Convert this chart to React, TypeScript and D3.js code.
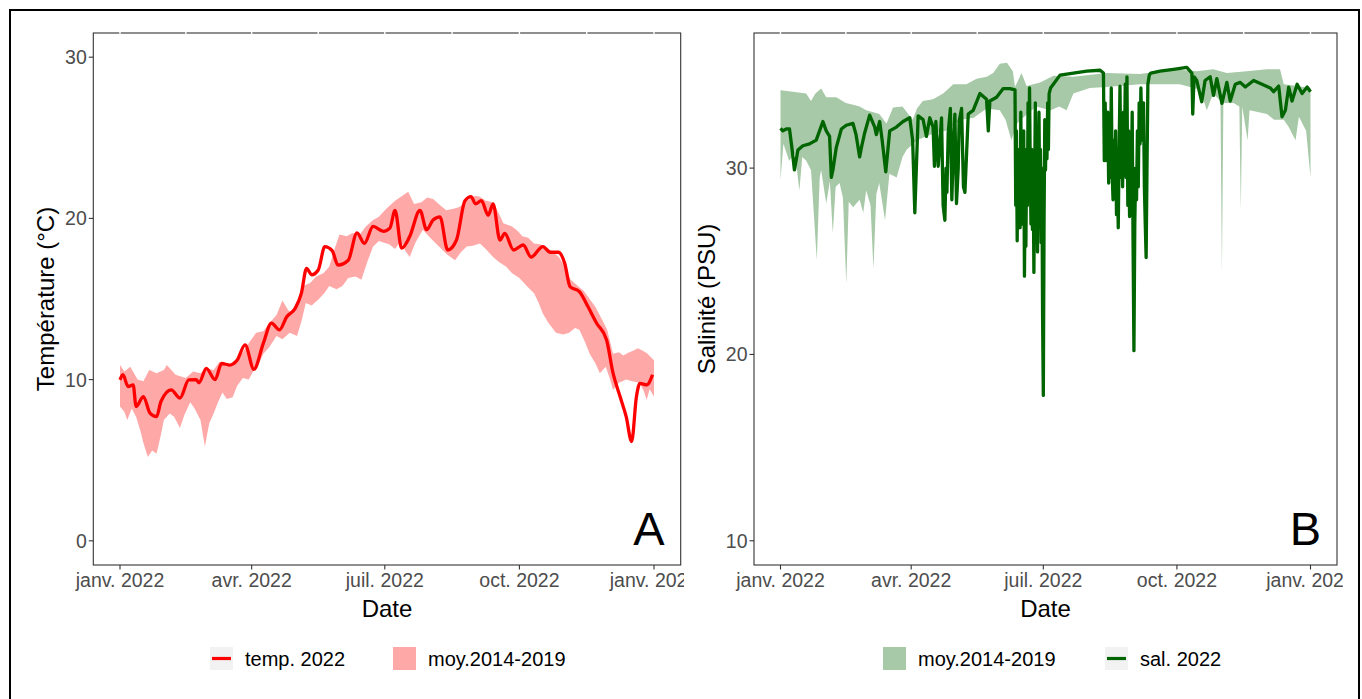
import React from "react";
import * as d3 from "d3";

// ---------- axis data ----------
const tickDays = [0, 90, 181, 273, 365];
const tickLabels = ["janv. 2022", "avr. 2022", "juil. 2022", "oct. 2022", "janv. 2023"];
const minorDays = [45, 135.5, 227, 319];
const tempYTicks = [0, 10, 20, 30];
const salYTicks = [10, 20, 30];

// ---------- temperature 2022 (day of year, °C) ----------
const tempDays = [0, 2, 5.5, 9, 11, 16, 20.5, 25, 28, 35, 41, 47, 52, 54, 59, 65, 69.5, 75, 80, 85.5, 91.5, 98, 103.5, 109, 114, 119.6, 124, 127.5, 131, 135.5, 140, 145, 149, 156, 162, 167, 173, 180, 184.5, 188, 192.5, 198, 205, 209.6, 214, 218.7, 224, 230, 235.8, 240, 243, 247, 251.7, 255, 259.7, 263, 269, 275.6, 281, 289, 294, 299.6, 304, 307.6, 314, 320, 325.8, 332.6, 337, 341.8, 346, 349.7, 353, 355.4, 360, 364];
const tempValues = [9.98, 10.3, 9.57, 9.67, 8.33, 8.95, 7.92, 7.7, 8.64, 9.36, 8.86, 9.98, 10.0, 9.8, 10.7, 10.0, 11.0, 10.9, 11.2, 12.15, 10.64, 12.26, 13.5, 13.08, 13.9, 14.4, 15.36, 16.9, 16.5, 16.8, 18.25, 18.0, 17.1, 17.4, 19.1, 18.45, 19.5, 19.2, 19.4, 20.5, 18.15, 18.87, 20.5, 19.3, 19.9, 20.1, 18.04, 18.66, 21.1, 21.35, 20.9, 21.1, 20.2, 20.9, 18.66, 19.07, 18.04, 18.35, 17.6, 18.25, 17.9, 17.9, 17.2, 15.77, 15.46, 14.5, 13.5, 12.46, 10.4, 8.95, 7.7, 6.16, 8.95, 9.77, 9.67, 10.3];

// ---------- temperature mean 2014-2019 band ----------
const tempUpDays = [0, 3, 7, 12, 16, 20, 25, 30, 32, 38, 45, 50, 55, 59, 64, 68, 73, 77, 82, 86, 93, 98, 102, 107, 111, 115, 118, 122, 125, 130, 134, 139, 143, 147, 150, 155, 159, 164, 168, 173, 177, 182, 188, 193, 197, 201, 206, 210, 214, 219, 223, 228, 232, 236, 239, 243, 246, 250, 255, 259, 262, 268, 272, 275, 279, 283, 287, 291, 296, 300, 304, 308, 313, 317, 321, 325, 329, 333, 337, 341, 344, 347, 351, 354, 357, 360, 365];
const tempUp = [10.9, 10.5, 10.8, 10.0, 9.9, 10.6, 10.4, 10.6, 10.9, 10.3, 10.1, 10.5, 10.4, 10.7, 10.6, 11.1, 10.8, 11.1, 11.4, 12.0, 12.9, 13.0, 13.5, 14.0, 14.9, 14.3, 14.1, 15.0, 15.8, 16.0, 16.4, 16.6, 17.0, 18.2, 19.0, 18.9, 19.1, 19.0, 19.5, 19.9, 20.1, 20.6, 21.1, 21.4, 21.65, 20.9, 21.0, 21.3, 21.2, 20.8, 20.5, 20.6, 20.7, 21.0, 21.2, 21.4, 21.35, 21.1, 21.0, 20.3, 19.7, 19.5, 19.2, 18.9, 18.8, 18.45, 18.4, 18.25, 17.9, 17.6, 17.0, 16.2, 15.8, 15.5, 15.0, 14.5, 13.8, 13.1, 11.6, 11.7, 11.5, 11.65, 11.8, 11.95, 11.8, 11.65, 11.2];
const tempLoDays = [0, 3, 5, 8, 11, 14, 16, 19, 22, 25, 28, 30, 34, 37, 41, 44, 48, 51, 55, 58, 61, 64, 67, 70, 73, 77, 80, 84, 88, 91, 95, 98, 102, 107, 111, 116, 121, 124, 127, 131, 136, 140, 143, 148, 152, 156, 161, 165, 169, 173, 177, 180, 184, 188, 192, 195, 198, 202, 207, 212, 218, 223, 229, 233, 237, 241, 246, 250, 255, 259, 264, 268, 273, 278, 283, 286, 289, 293, 298, 303, 307, 311, 314, 318, 321, 325, 328, 332, 335, 337, 341, 346, 350, 355, 358, 360, 362, 365];
const tempLo = [8.33, 8.0, 7.5, 8.2, 7.7, 6.8, 6.07, 5.2, 5.6, 5.4, 6.6, 7.5, 7.9, 7.7, 7.0, 7.8, 8.6, 8.2, 7.5, 5.85, 7.3, 7.9, 8.6, 9.2, 8.8, 8.9, 9.6, 10.1, 10.0, 10.5, 11.0, 11.6, 12.0, 12.7, 12.5, 12.9, 12.7, 13.6, 14.75, 14.6, 15.0, 15.4, 15.8, 15.6, 15.8, 16.3, 16.4, 16.2, 17.3, 18.25, 18.6, 18.5, 18.4, 18.1, 18.6, 18.0, 17.6, 18.5, 19.3, 18.8, 18.25, 17.8, 17.4, 17.9, 18.25, 18.3, 18.45, 18.1, 17.6, 17.3, 17.0, 16.6, 16.3, 15.8, 15.35, 14.8, 14.1, 13.5, 12.9, 12.8, 12.9, 13.2, 13.1, 12.3, 11.6, 11.0, 10.4, 10.8, 10.0, 9.36, 9.8, 10.0, 9.9, 9.8, 9.3, 8.74, 9.4, 8.95];

// ---------- salinity 2022: [day of year, PSU] ----------
const sal2022: [number, number][] = [
  [0, 32.13], [1.6, 32.0], [4, 32.1], [6.2, 32.1], [8, 31.0], [9.6, 29.9], [12, 30.97], [15.4, 31.2], [20, 31.3], [24.6, 31.5],
  [29.2, 32.5], [31.5, 32.0], [33.8, 31.7], [35, 29.5], [36.1, 29.9], [38.4, 31.1], [41.9, 32.1], [45.3, 32.3], [49.9, 32.4], [52, 31.8],
  [54.5, 30.6], [56, 31.2], [58, 31.9], [61.4, 32.84], [64.9, 32.2], [66, 31.8], [68.3, 32.5], [70, 31.5], [72.5, 29.8], [75.2, 32.0],
  [79.8, 32.2], [84.4, 32.5], [89, 32.7], [91, 31.5], [92.5, 27.6], [94.8, 32.8], [98.2, 32.6], [100.5, 31.7], [102.8, 32.7],
  [105.1, 32.2], [106, 30.1], [107, 32.5], [108.6, 30.1], [110.9, 32.7], [112, 28.0], [113.2, 27.2], [114, 30.0], [114.6, 28.7], [115.5, 31.9],
  [117, 33.2], [118, 28.3], [119, 31.0], [120.1, 32.9], [121.2, 28.1], [122.4, 30.0], [123, 32.5], [124.7, 33.2], [126, 29.0], [127, 28.7],
  [128, 30.5], [129.3, 32.9], [132.7, 33.1], [137.3, 34.0], [141.9, 33.7], [143.1, 32.0], [144.2, 33.6], [148.8, 33.8], [153.4, 34.27], [158, 34.27],
  [161.5, 34.2], [162, 28.0], [162.5, 32.0], [163, 26.1], [163.5, 30.0], [164, 27.0], [164.5, 31.0], [165, 26.8], [165.5, 33.0], [166, 28.5],
  [166.5, 30.4], [167, 27.0], [167.5, 32.0], [168, 24.2], [168.5, 29.0], [169, 25.8], [169.5, 31.0], [170, 28.0], [170.5, 33.5], [171, 29.7],
  [171.5, 34.3], [172, 30.0], [172.5, 27.0], [173, 31.0], [173.5, 26.7], [174, 30.0], [174.5, 24.4], [175, 29.0], [175.5, 33.5], [176, 27.5],
  [176.5, 30.5], [177, 25.5], [177.5, 30.0], [178, 33.0], [178.5, 28.0], [179, 31.0], [179.5, 26.0], [180, 30.0], [180.5, 22.0], [181, 17.8],
  [181.5, 27.0], [182, 32.6], [182.5, 29.9], [183, 32.5], [183.5, 30.5], [184, 33.5], [184.5, 31.0], [185, 34.0], [186, 34.3],
  [187.9, 34.5], [192.5, 34.99], [201.7, 35.1], [210.9, 35.2], [220.1, 35.25],
  [222.4, 35.1], [223, 30.4], [223.6, 33.5], [224.2, 31.0], [224.8, 30.4], [225.4, 33.0], [226, 29.2], [226.6, 32.0], [227.2, 29.5], [227.8, 34.3],
  [228.4, 29.8], [229, 28.3], [229.6, 31.5], [230.2, 28.8], [230.8, 32.0], [231.4, 27.5], [232, 30.0], [232.6, 26.8], [233.2, 31.0], [233.8, 34.4],
  [234.4, 29.5], [235, 32.5], [235.6, 29.0], [236.2, 33.0], [236.8, 30.0], [237.4, 34.5], [238, 29.5], [238.6, 34.9], [239.2, 28.0], [239.8, 32.0],
  [240.4, 27.4], [241, 31.0], [241.6, 28.5], [242.2, 33.0], [242.8, 26.0], [243.4, 20.2], [244, 27.0], [244.6, 30.0], [245.2, 28.3], [245.8, 32.0],
  [246.4, 29.0], [247, 33.5], [247.6, 31.3], [248.2, 34.3], [248.8, 32.0], [249.4, 31.5], [250, 33.5], [250.6, 29.0], [251.2, 27.0], [251.8, 25.2],
  [252.4, 30.0], [253, 34.5], [254, 35.0], [255, 35.1],
  [261.4, 35.2], [270.6, 35.3], [279.8, 35.4], [283.3, 35.1], [283.9, 32.9], [284.8, 34.9], [286.7, 34.7], [290.1, 33.56], [292.4, 34.7], [295.9, 34.9],
  [298.2, 33.9], [300.5, 34.8], [304, 33.47], [307.4, 34.6], [309.7, 33.6], [313.2, 34.5], [316.6, 34.6], [320.1, 34.35], [325.8, 34.7], [331.6, 34.5],
  [337.3, 34.3], [339.6, 34.1], [343.1, 34.4], [345.4, 32.75], [347.7, 33.1], [350, 34.35], [352.3, 33.6], [355.8, 34.5], [359.2, 34.0], [362.7, 34.35], [365, 34.1],
];

// ---------- salinity mean 2014-2019 band ----------
const salUpDays = [0, 8.5, 17.7, 21, 24, 28, 31.5, 38.4, 45, 50, 54.5, 59, 64, 68, 73, 77.5, 84, 91, 94, 98, 105, 112, 119, 128, 135, 142, 146.5, 151, 156, 160, 161.5, 166, 169.5, 178.8, 188, 201.7, 224.6, 247.6, 270.6, 286.7, 298, 307.4, 321, 335, 344, 346.6, 355.8, 365];
const salUp = [34.18, 34.1, 34.0, 33.6, 34.0, 34.27, 33.8, 33.8, 33.5, 33.4, 33.3, 33.1, 33.0, 32.9, 32.4, 33.25, 33.3, 32.6, 33.2, 33.6, 33.7, 34.0, 34.5, 34.5, 34.8, 34.9, 35.1, 35.6, 35.65, 35.2, 34.35, 35.1, 34.4, 34.6, 34.95, 34.9, 35.1, 35.05, 35.3, 35.2, 35.3, 35.1, 35.2, 35.3, 35.3, 34.5, 34.4, 34.3];
const salLoDays = [0, 2, 6, 10, 13, 15, 17.7, 21, 25, 27, 28, 31.5, 34, 36, 38, 40.7, 43, 45.3, 47, 50, 54.5, 57, 59, 62, 64, 66, 68, 72, 75, 80, 84, 87, 94, 100, 107, 114, 124, 133, 142, 151, 155, 159, 163, 167, 176, 186, 192, 197, 201.7, 213, 224.6, 247.6, 275, 289, 293.6, 298, 303, 304, 305, 312, 316, 317, 318, 321.7, 323, 335, 340, 346.6, 350, 354.7, 357, 362, 365];
const salLo = [29.36, 31.3, 30.4, 30.8, 28.8, 30.6, 30.4, 29.9, 25.07, 29.5, 29.9, 28.1, 29.3, 26.5, 29.0, 29.2, 28.4, 23.8, 28.2, 27.9, 28.3, 27.6, 28.8, 28.0, 24.6, 28.6, 29.2, 27.2, 29.7, 29.5, 30.6, 31.0, 31.5, 31.7, 31.9, 32.0, 32.6, 32.7, 33.2, 33.1, 32.6, 31.5, 32.4, 32.7, 33.3, 33.1, 33.3, 33.1, 34.0, 34.3, 34.35, 34.5, 34.5, 34.2, 33.1, 34.0, 33.6, 24.35, 33.5, 33.5, 33.3, 27.7, 33.3, 31.5, 33.1, 32.9, 32.6, 32.6, 32.2, 31.5, 32.75, 32.0, 29.5];

const salDays = sal2022.map((d) => d[0]);
const salValues = sal2022.map((d) => d[1]);

const FONT = "'Liberation Sans', Arial, sans-serif";

type PanelProps = {
  left: number; right: number; top: number; bottom: number;
  yDomain: [number, number]; yTicks: number[];
  lineDays: number[]; lineVals: number[];
  upDays: number[]; up: number[]; loDays: number[]; lo: number[];
  lineColor: string; bandColor: string; smooth: boolean;
  yTitle: string; yTitleX: number; letter: string; clipRight: number; clipLeft: number; id: string;
};

function Panel(p: PanelProps) {
  const x = d3.scaleLinear().domain([-18.25, 383.25]).range([p.left, p.right]);
  const y = d3.scaleLinear().domain(p.yDomain).range([p.bottom, p.top]);
  const upPts = p.upDays.map((d, i) => [x(d), y(p.up[i])] as [number, number]);
  const loPts = p.loDays.map((d, i) => [x(d), y(p.lo[i])] as [number, number]).reverse();
  const band = d3.line()([...upPts, ...loPts]) + "Z";
  const lineGen = d3.line<number>().x((d, i) => x(p.lineDays[i])).y((d) => y(d));
  if (p.smooth) lineGen.curve(d3.curveMonotoneX);
  const linePath = lineGen(p.lineVals) || "";
  const cx = (p.left + p.right) / 2;
  return (
    <g>
      <defs>
        <clipPath id={p.id}>
          <rect x={p.clipLeft} y={0} width={p.clipRight - p.clipLeft} height={699} />
        </clipPath>
      </defs>
      <g clipPath={`url(#${p.id})`}>
        <path d={band} fill={p.bandColor} stroke="none" />
        <path d={linePath} fill="none" stroke={p.lineColor} strokeWidth={3.3} strokeLinejoin="round" strokeLinecap="butt" />
        <rect x={p.left} y={p.top} width={p.right - p.left} height={p.bottom - p.top} fill="none" stroke="#333333" strokeWidth={1.1} />
        {[...tickDays, ...minorDays].map((d, i) => (
          <line key={"g" + i} x1={x(d)} x2={x(d)} y1={p.top - 1.2} y2={p.top + 1.2} stroke="#ffffff" strokeWidth={1.4} />
        ))}
        {tickDays.map((d, i) => (
          <g key={"x" + i}>
            <line x1={x(d)} x2={x(d)} y1={p.bottom} y2={p.bottom + 4.5} stroke="#333333" strokeWidth={1.1} />
            <text x={x(d)} y={p.bottom + 22} textAnchor="middle" fontSize={19.5} fill="#4d4d4d" fontFamily={FONT}>{tickLabels[i]}</text>
          </g>
        ))}
        {p.yTicks.map((v, i) => (
          <g key={"y" + i}>
            <line x1={p.left - 4.5} x2={p.left} y1={y(v)} y2={y(v)} stroke="#333333" strokeWidth={1.1} />
            <text x={p.left - 6.5} y={y(v)} dy="0.36em" textAnchor="end" fontSize={19.5} fill="#4d4d4d" fontFamily={FONT}>{v}</text>
          </g>
        ))}
        <text x={cx} y={617} textAnchor="middle" fontSize={24} fill="#000" fontFamily={FONT}>Date</text>
        <text transform={`translate(${p.yTitleX},${(p.top + p.bottom) / 2}) rotate(-90)`} dy="0.36em" textAnchor="middle" fontSize={24} fill="#000" fontFamily={FONT}>{p.yTitle}</text>
        <text x={p.right - 16} y={545} textAnchor="end" fontSize={47} fill="#000" fontFamily={FONT}>{p.letter}</text>
      </g>
    </g>
  );
}

function LineKey({ x, y, color }: { x: number; y: number; color: string }) {
  return (
    <g>
      <rect x={x} y={y} width={23} height={23} fill="#f2f2f2" />
      <line x1={x + 2} x2={x + 21} y1={y + 11.5} y2={y + 11.5} stroke={color} strokeWidth={3.2} />
    </g>
  );
}

function FillKey({ x, y, color }: { x: number; y: number; color: string }) {
  return <rect x={x} y={y} width={23} height={23} fill={color} />;
}

export default function App() {
  const red = "#ff0000";
  const pink = "#ffa8a8";
  const dgreen = "#006400";
  const lgreen = "#a7c9a7";
  return (
    <svg width={1362} height={699} style={{ position: "absolute", left: 0, top: 0, background: "#fff" }} fontFamily={FONT}>
      <rect x={0} y={0} width={1362} height={699} fill="#fff" />
      <Panel id="clipA" left={93.3} right={680.7} top={33} bottom={565} yDomain={[-1.5, 31.5]} yTicks={tempYTicks}
        lineDays={tempDays} lineVals={tempValues} upDays={tempUpDays} up={tempUp} loDays={tempLoDays} lo={tempLo}
        lineColor={red} bandColor={pink} smooth={true} yTitle="Température (°C)" yTitleX={45} letter="A" clipLeft={0} clipRight={684} />
      <Panel id="clipB" left={754} right={1337} top={33} bottom={565} yDomain={[8.7, 37.25]} yTicks={salYTicks}
        lineDays={salDays} lineVals={salValues} upDays={salUpDays} up={salUp} loDays={salLoDays} lo={salLo}
        lineColor={dgreen} bandColor={lgreen} smooth={false} yTitle="Salinité (PSU)" yTitleX={706} letter="B" clipLeft={690} clipRight={1343} />
      {/* legends */}
      <LineKey x={210} y={647} color={red} />
      <text x={245} y={666} fontSize={20} fill="#000">temp. 2022</text>
      <FillKey x={393} y={647} color={pink} />
      <text x={428} y={666} fontSize={20} fill="#000">moy.2014-2019</text>
      <FillKey x={883} y={647} color={lgreen} />
      <text x={918} y={666} fontSize={20} fill="#000">moy.2014-2019</text>
      <LineKey x={1105} y={647} color={dgreen} />
      <text x={1140} y={666} fontSize={20} fill="#000">sal. 2022</text>
      {/* outer frame */}
      <rect x={10} y={10} width={1349} height={720} fill="none" stroke="#000" strokeWidth={2} />
    </svg>
  );
}
